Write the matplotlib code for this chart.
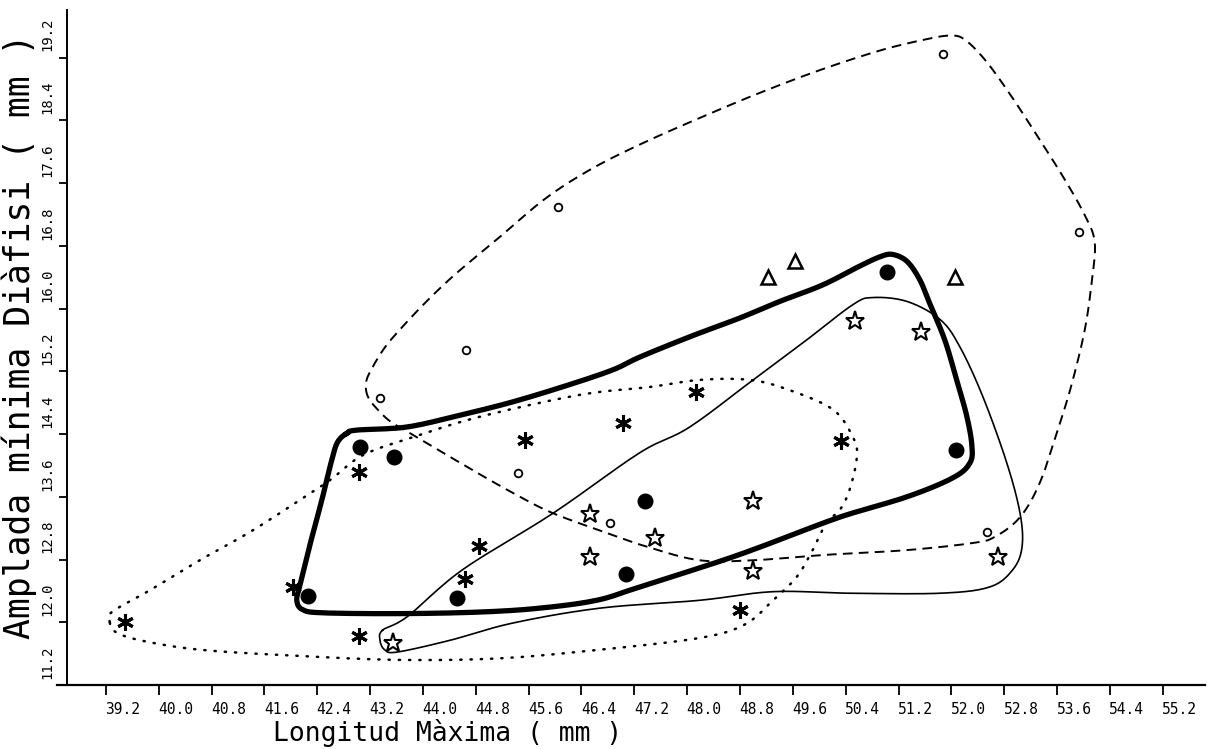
import numpy as np
import matplotlib
matplotlib.use("Agg")
import matplotlib.pyplot as plt
from matplotlib.transforms import ScaledTranslation

# ---------------- data ----------------
# filled circles
fc_x = [43.05, 43.56, 42.26, 44.51, 47.36, 47.07, 51.02, 52.07]
fc_y = [14.24, 14.11, 12.34, 12.31, 13.55, 12.62, 16.46, 14.20]
# six-pointed asterisks
ast_x = [39.49, 42.03, 43.03, 43.03, 44.63, 44.85, 45.54, 47.03, 48.13, 50.33, 48.80]
ast_y = [12.00, 12.45, 13.92, 11.83, 12.55, 12.97, 14.33, 14.54, 14.94, 14.31, 12.16]
# open five-pointed stars
st_x = [43.54, 46.53, 46.53, 47.51, 48.99, 48.99, 50.54, 51.54, 52.70]
st_y = [11.74, 13.38, 12.83, 13.07, 13.55, 12.65, 15.84, 15.70, 12.83]
# small open circles
oc_x = [51.87, 53.94, 46.04, 44.65, 43.35, 45.44, 46.83, 52.54]
oc_y = [19.25, 16.98, 17.30, 15.47, 14.86, 13.90, 13.27, 13.15]
# open triangles
tr_x = [49.22, 49.63, 52.05]
tr_y = [16.40, 16.61, 16.40]

# hand-drawn group outlines (data units)
dash_x = [43.17, 43.14, 43.23, 43.42, 43.65, 44.03, 44.48, 45.16, 45.85, 46.53, 47.28, 48.19,
          49.10, 50.01, 50.92, 51.60, 51.98, 52.20, 52.51, 52.89, 53.34, 53.72, 54.02, 54.17,
          54.13, 54.02, 53.82, 53.61, 53.34, 53.04, 52.66, 52.32, 51.33, 50.11, 48.99, 48.19,
          47.44, 46.88, 45.97, 45.36, 44.67, 43.85, 43.54, 43.35]
dash_y = [14.87, 15.06, 15.24, 15.50, 15.73, 16.07, 16.43, 16.91, 17.40, 17.77, 18.09, 18.43,
          18.75, 19.04, 19.29, 19.43, 19.48, 19.43, 19.17, 18.73, 18.15, 17.64, 17.19, 16.85,
          16.37, 15.73, 15.03, 14.45, 13.78, 13.34, 13.09, 13.01, 12.92, 12.86, 12.79, 12.79,
          12.95, 13.11, 13.39, 13.65, 13.98, 14.39, 14.54, 14.68]

thick_x = [42.85, 43.00, 43.76, 44.56, 45.36, 46.22, 46.88, 47.28, 48.04, 48.80, 49.40, 50.05,
           50.61, 50.92, 51.11, 51.33, 51.52, 51.67, 51.90, 52.08, 52.23, 52.31, 52.28, 52.02,
           51.33, 50.31, 49.30, 48.54, 47.28, 46.63, 45.77, 44.86, 43.65, 42.49, 42.18, 42.09,
           42.14, 42.29, 42.47, 42.62, 42.71]
thick_y = [14.41, 14.45, 14.49, 14.64, 14.81, 15.03, 15.22, 15.38, 15.64, 15.88, 16.09, 16.30,
           16.54, 16.66, 16.69, 16.60, 16.37, 16.07, 15.60, 15.09, 14.64, 14.26, 14.03, 13.84,
           13.60, 13.34, 13.02, 12.79, 12.45, 12.28, 12.18, 12.13, 12.11, 12.12, 12.16, 12.28,
           12.48, 12.99, 13.56, 14.07, 14.30]

thin_x = [43.39, 43.35, 43.42, 43.61, 44.41, 45.36, 46.68, 48.19, 49.30, 50.46, 51.83, 52.58,
          52.93, 53.07, 53.04, 52.84, 52.48, 52.13, 51.83, 51.33, 50.81, 50.51, 49.81, 49.06,
          48.04, 47.28, 45.97, 44.60, 43.76]
thin_y = [11.90, 11.77, 11.65, 11.62, 11.77, 11.99, 12.18, 12.28, 12.39, 12.37, 12.37, 12.45,
          12.67, 12.96, 13.39, 14.03, 14.87, 15.51, 15.86, 16.09, 16.14, 16.05, 15.60, 15.13,
          14.49, 14.16, 13.39, 12.67, 12.07]

dot_x = [39.26, 39.29, 39.87, 40.62, 41.38, 42.14, 42.59, 43.09, 43.85, 44.86, 46.38, 47.44,
         48.19, 48.95, 49.55, 50.21, 50.51, 50.57, 50.46, 50.31, 50.11, 49.90, 49.66, 49.30,
         48.87, 48.19, 46.68, 45.16, 43.65, 42.14, 40.62, 39.72, 39.34]
dot_y = [12.00, 12.13, 12.41, 12.79, 13.15, 13.56, 13.81, 14.13, 14.36, 14.62, 14.90, 15.00,
         15.09, 15.09, 14.96, 14.71, 14.36, 14.11, 13.69, 13.43, 13.27, 12.92, 12.58, 12.28,
         11.97, 11.80, 11.65, 11.54, 11.52, 11.57, 11.65, 11.77, 11.88]

x_ticks = [39.2, 40.0, 40.8, 41.6, 42.4, 43.2, 44.0, 44.8, 45.6, 46.4, 47.2, 48.0, 48.8,
           49.6, 50.4, 51.2, 52.0, 52.8, 53.6, 54.4, 55.2]
x_tick_labels = ["39.2", "40.0", "40.8", "41.6", "42.4", "43.2", "44.0", "44.8", "45.6",
                 "46.4", "47.2", "48.0", "48.8", "49.6", "50.4", "51.2", "52.0", "52.8",
                 "53.6", "54.4", "55.2"]
y_ticks = [11.2, 12.0, 12.8, 13.6, 14.4, 15.2, 16.0, 16.8, 17.6, 18.4, 19.2]
y_tick_labels = ["11.2", "12.0", "12.8", "13.6", "14.4", "15.2", "16.0", "16.8", "17.6",
                 "18.4", "19.2"]


def smooth_closed(xs, ys, n=14):
    P = np.column_stack([xs, ys])
    N = len(P)
    t = np.linspace(0, 1, n, endpoint=False)[:, None]
    segs = []
    for i in range(N):
        p0, p1, p2, p3 = P[(i - 1) % N], P[i], P[(i + 1) % N], P[(i + 2) % N]
        segs.append(0.5 * (2 * p1 + (-p0 + p2) * t
                           + (2 * p0 - 5 * p1 + 4 * p2 - p3) * t ** 2
                           + (-p0 + 3 * p1 - 3 * p2 + p3) * t ** 3))
    segs.append(P[:1])
    S = np.vstack(segs)
    return S[:, 0], S[:, 1]


mono = "DejaVu Sans Mono"
W, H = 1209, 749
fig = plt.figure(figsize=(W / 100, H / 100), dpi=100)
fig.patch.set_facecolor("white")

# axes geometry (pixels)
left_px, right_px, bot_px, top_px = 57, 1205, 685, 5
ax = fig.add_axes([left_px / W, 1 - bot_px / H, (right_px - left_px) / W, (bot_px - top_px) / H])
ax.set_xlim(38.46, 55.84)
ax.set_ylim(11.2, 19.87)
ax.set_facecolor("white")

# outlines
sx, sy = smooth_closed(dot_x, dot_y)
ax.plot(sx, sy, color="black", lw=1.8, linestyle=(0, (0.5, 3.6)), dash_capstyle="round", zorder=2)
sx, sy = smooth_closed(dash_x, dash_y)
ax.plot(sx, sy, color="black", lw=1.4, linestyle=(0, (5, 3.2)), zorder=2)
sx, sy = smooth_closed(thin_x, thin_y)
ax.plot(sx, sy, color="black", lw=1.2, zorder=2)
sx, sy = smooth_closed(thick_x, thick_y, n=10)
ax.plot(sx, sy, color="black", lw=3.8, solid_joinstyle="round", zorder=2)

# markers
ax.plot(fc_x, fc_y, "o", ms=10.5, color="black", zorder=4, linestyle="none")
ax.plot(ast_x, ast_y, marker=(6, 2, 0), ms=12, mew=2.2, color="black", zorder=4, linestyle="none")
ax.plot(st_x, st_y, marker="*", ms=14, mfc="white", mec="black", mew=1.5, zorder=4, linestyle="none")
ax.plot(oc_x, oc_y, "o", ms=5.5, mfc="white", mec="black", mew=1.3, zorder=4, linestyle="none")
ax.plot(tr_x, tr_y, "^", ms=10, mfc="white", mec="black", mew=1.8, zorder=4, linestyle="none")

# spines
for s in ("top", "right"):
    ax.spines[s].set_visible(False)
ax.spines["left"].set_position(("data", 38.61))
ax.spines["left"].set_bounds(11.2, 19.8)
ax.spines["left"].set_linewidth(1.4)
ax.spines["bottom"].set_linewidth(1.6)

ax.set_xticks(x_ticks)
ax.set_xticklabels(x_tick_labels, family=mono, fontsize=10.5)
ax.set_yticks(y_ticks)
ax.set_yticklabels(y_tick_labels, family=mono, fontsize=10, rotation=90, va="center", ha="right")
ax.tick_params(axis="x", direction="out", length=7, width=1.3, pad=5)
ax.tick_params(axis="y", direction="out", length=6, width=1.3, pad=3)

offx = ScaledTranslation(17 / 100, 0, fig.dpi_scale_trans)
for lab in ax.get_xticklabels():
    lab.set_transform(lab.get_transform() + offx)
offy = ScaledTranslation(0, 23 / 100, fig.dpi_scale_trans)
for lab in ax.get_yticklabels():
    lab.set_transform(lab.get_transform() + offy)

fig.text(448 / W, 1 - 733 / H, "Longitud Màxima ( mm )", family=mono, fontsize=19,
         ha="center", va="center")
fig.text(19 / W, 1 - 336 / H, "Amplada mínima Diàfisi ( mm )", family=mono, fontsize=25,
         ha="center", va="center", rotation=90)

fig.savefig("out.png", dpi=100, facecolor="white")
